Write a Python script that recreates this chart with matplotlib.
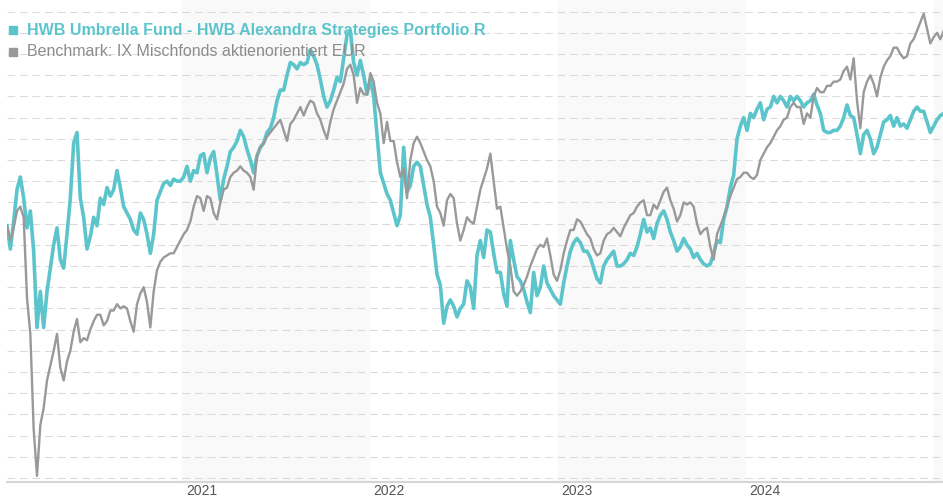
import numpy as np
import pandas as pd
import matplotlib
matplotlib.use('Agg')
import matplotlib.pyplot as plt
from matplotlib.lines import Line2D

# ---- data (index level, expressed in grid-step units; sampled every ~6.5 days) ----
fund = [
    11.9, 10.8, 12.1, 13.6, 14.2, 13.2, 11.8, 12.6, 10.7, 7.1,
    8.8, 7.1, 8.8, 9.9, 11.0, 11.8, 10.3, 9.9, 11.5, 13.2,
    15.8, 16.3, 13.2, 12.3, 10.8, 11.4, 12.3, 11.9, 13.2, 12.9,
    13.7, 13.3, 13.6, 14.5, 13.7, 12.8, 12.5, 12.2, 11.7, 11.5,
    12.5, 12.2, 11.5, 10.6, 11.5, 13.1, 13.5, 13.9, 14.0, 13.8,
    14.1, 14.0, 14.0, 14.2, 14.7, 14.0, 14.5, 14.4, 15.2, 15.3,
    14.4, 15.1, 15.4, 14.3, 13.1, 14.1, 14.7, 15.4, 15.6, 15.9,
    16.4, 16.1, 15.5, 15.0, 14.4, 15.2, 15.6, 15.8, 16.3, 16.5,
    17.0, 17.8, 18.3, 18.3, 19.0, 19.6, 19.5, 19.3, 19.6, 19.5,
    19.6, 20.2, 19.9, 19.5, 18.8, 18.0, 17.5, 17.8, 18.3, 18.9,
    18.7, 19.8, 20.9, 21.1, 19.6, 19.0, 19.7, 19.0, 18.1, 18.8,
    18.0, 16.2, 14.4, 13.9, 13.4, 13.1, 12.5, 11.9, 12.4, 15.6,
    13.5, 13.8, 14.7, 14.9, 14.7, 13.8, 12.9, 12.3, 11.0, 9.6,
    9.1, 7.3, 8.1, 8.4, 8.1, 7.6, 8.0, 8.2, 9.3, 9.0,
    8.0, 10.5, 11.2, 10.4, 11.7, 11.6, 10.6, 9.7, 9.7, 8.7,
    8.1, 11.2, 10.3, 9.5, 9.3, 8.9, 8.3, 7.8, 9.7, 8.6,
    9.0, 10.0, 9.2, 8.9, 8.6, 8.4, 8.2, 9.2, 10.0, 10.7,
    11.1, 11.3, 11.1, 10.7, 10.7, 10.4, 9.9, 9.4, 9.2, 10.0,
    10.3, 10.5, 10.7, 10.0, 10.0, 10.1, 10.3, 10.6, 10.5, 10.9,
    11.5, 12.2, 11.6, 11.8, 11.3, 12.0, 12.4, 12.6, 12.2, 11.6,
    11.2, 10.7, 10.9, 11.3, 11.0, 10.8, 10.4, 10.6, 10.3, 10.1,
    10.0, 10.1, 10.6, 11.2, 11.1, 12.2, 12.8, 13.7, 14.3, 16.0,
    16.6, 17.0, 16.4, 17.2, 17.0, 17.4, 17.7, 16.9, 17.4, 17.5,
    18.0, 17.7, 18.0, 17.8, 17.5, 18.0, 17.8, 18.0, 17.8, 17.5,
    17.7, 17.8, 18.1, 17.6, 17.2, 16.4, 16.3, 16.3, 16.4, 16.4,
    16.6, 17.0, 17.6, 17.1, 17.0, 16.2, 15.3, 16.2, 16.4, 16.0,
    15.3, 15.6, 16.2, 16.8, 16.9, 17.1, 16.6, 17.0, 16.6, 16.7,
    16.5, 16.9, 17.3, 17.5, 17.3, 17.3, 16.8, 16.3, 16.6, 16.9,
    17.1, 17.2,
]
bench = [
    11.9, 11.2, 11.8, 12.6, 12.8, 12.3, 8.5, 6.8, 2.3, 0.1,
    2.5, 3.3, 4.6, 5.3, 6.0, 6.8, 5.2, 4.6, 5.5, 6.0,
    6.9, 7.5, 6.4, 6.6, 6.5, 7.0, 7.4, 7.7, 7.7, 7.2,
    7.4, 7.9, 7.9, 8.2, 8.0, 8.1, 8.0, 7.4, 6.9, 8.2,
    8.7, 9.0, 8.3, 7.1, 8.8, 9.8, 10.2, 10.4, 10.5, 10.6,
    10.6, 10.9, 11.2, 11.5, 11.7, 12.1, 12.8, 13.3, 13.2, 12.6,
    13.3, 13.2, 12.5, 12.2, 13.0, 13.6, 13.7, 14.2, 14.4, 14.5,
    14.7, 14.5, 14.4, 14.2, 13.6, 15.2, 15.6, 15.8, 16.1, 16.3,
    16.5, 16.7, 16.9, 16.4, 15.9, 16.7, 16.9, 17.2, 17.5, 17.1,
    17.5, 17.8, 17.7, 17.2, 16.9, 16.4, 16.0, 16.8, 17.4, 17.8,
    18.2, 18.6, 19.3, 19.5, 19.0, 17.7, 18.4, 18.1, 18.1, 19.1,
    18.7, 17.7, 17.2, 15.8, 16.8, 15.9, 15.9, 14.9, 14.2, 14.6,
    13.2, 15.0, 15.8, 16.1, 15.8, 15.4, 15.0, 14.7, 14.0, 12.8,
    12.5, 11.9, 13.1, 13.4, 13.2, 12.0, 11.2, 11.7, 12.3, 12.1,
    12.0, 12.8, 13.6, 14.1, 14.6, 15.3, 14.0, 12.7, 12.8, 11.8,
    10.8, 10.0, 8.8, 8.6, 8.8, 9.1, 9.5, 10.0, 10.4, 10.8,
    11.0, 10.9, 11.3, 10.5, 9.6, 9.3, 9.8, 10.6, 11.2, 11.7,
    11.7, 12.2, 12.1, 11.8, 11.5, 11.3, 10.8, 10.5, 10.6, 11.2,
    11.5, 11.6, 11.8, 11.6, 11.4, 11.8, 12.1, 12.4, 12.5, 12.8,
    13.0, 13.1, 12.4, 12.4, 12.9, 12.7, 13.1, 13.5, 13.7, 13.1,
    12.7, 12.1, 12.4, 13.0, 12.9, 13.0, 12.8, 12.0, 11.5, 11.7,
    11.8, 10.9, 10.3, 11.5, 11.9, 12.3, 12.8, 13.3, 13.7, 14.1,
    14.2, 14.4, 14.4, 14.2, 14.1, 14.3, 15.0, 15.3, 15.6, 15.8,
    16.1, 16.4, 16.6, 16.9, 17.0, 17.5, 17.7, 17.5, 17.5, 16.7,
    17.2, 17.0, 18.0, 18.4, 18.2, 18.2, 18.5, 18.5, 18.7, 18.7,
    18.8, 19.2, 19.4, 18.8, 19.8, 17.8, 16.5, 18.2, 18.7, 19.0,
    18.6, 18.0, 18.9, 19.4, 19.7, 19.9, 20.3, 20.3, 20.0, 19.8,
    19.9, 20.5, 20.7, 21.1, 21.5, 21.9, 21.2, 20.5, 20.8, 21.0,
    20.7, 21.1,
]
year_labels = [2021, 2022, 2023, 2024]
shaded_years = [2021, 2023, 2025]
fund_label = "HWB Umbrella Fund - HWB Alexandra Strategies Portfolio R"
bench_label = "Benchmark: IX Mischfonds aktienorientiert EUR"

TEAL = '#5cc5cc'
GREY = '#999999'
plt.rcParams['font.family'] = ['Liberation Sans', 'DejaVu Sans']

origin = pd.Timestamp('2020-01-01')
start = origin + pd.Timedelta(days=25.26)
end = origin + pd.Timedelta(days=1843.7)
n = min(len(fund), len(bench))
dates = start + pd.to_timedelta(np.arange(n) * 6.476, unit='D')

W, H = 943, 500
fig = plt.figure(figsize=(W / 100, H / 100), dpi=100)
ax = fig.add_axes([7 / W, 18 / H, 936 / W, 482 / H])
ax.set_xlim(start, end)
ax.set_ylim(-0.19, 22.55)

for y in shaded_years:
    ax.axvspan(pd.Timestamp(f'{y}-01-01'), pd.Timestamp(f'{y + 1}-01-01'),
               color='#f9f9f9', lw=0, zorder=0)

for k in range(23):
    ax.axhline(k, color='#dadada', lw=0.75, linestyle=(0, (7.5, 4.5)), zorder=1)

ax.plot(dates, fund[:n], color=TEAL, lw=2.6, solid_joinstyle='round', zorder=3)
ax.plot(dates, bench[:n], color=GREY, lw=1.7, solid_joinstyle='round', zorder=4)

for s in ['top', 'left', 'right']:
    ax.spines[s].set_visible(False)
ax.spines['bottom'].set_color('#d6d6d6')
ax.spines['bottom'].set_linewidth(1.5)
ax.set_xticks([])
ax.set_yticks([])
ax.patch.set_alpha(0)

for y in year_labels:
    ax.annotate(str(y), xy=(pd.Timestamp(f'{y}-01-01'), 0), xycoords=('data', 'axes fraction'),
                xytext=(19, -9), textcoords='offset pixels', ha='center', va='center',
                fontsize=10, color='#555555')

# legend
for ypx, col, lab, wt in [(30, TEAL, fund_label, 'bold'), (52, GREY, bench_label, 'normal')]:
    fig.add_artist(Line2D([13 / W], [1 - ypx / H], marker='s', markersize=5.8, color=col,
                          linestyle='none', transform=fig.transFigure))
    fig.text(27 / W, 1 - ypx / H, lab, color=col if wt == 'bold' else '#8c8c8c',
             fontsize=11.5, fontweight=wt, ha='left', va='center')

fig.savefig('out.png', dpi=100)
